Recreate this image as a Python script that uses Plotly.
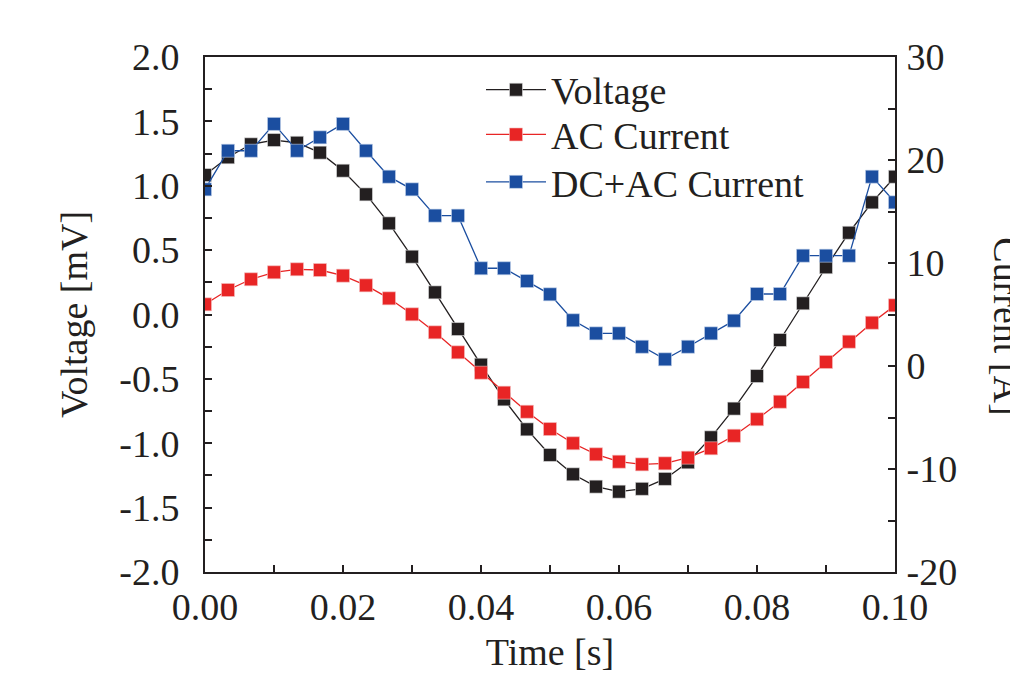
import plotly.graph_objects as go

time_s = [i / 300 for i in range(31)]

voltage_mV = [1.083, 1.221, 1.322, 1.355, 1.334, 1.257, 1.117, 0.933, 0.708, 0.449,
              0.172, -0.113, -0.390, -0.659, -0.892, -1.091, -1.241, -1.337, -1.376, -1.354,
              -1.277, -1.148, -0.954, -0.731, -0.478, -0.198, 0.087, 0.367, 0.635, 0.871, 1.070]

ac_current_A = [5.99, 7.38, 8.42, 9.10, 9.39, 9.32, 8.77, 7.83, 6.57, 5.02,
                3.27, 1.33, -0.65, -2.59, -4.44, -6.12, -7.50, -8.57, -9.29, -9.55,
                -9.45, -8.90, -7.99, -6.77, -5.17, -3.47, -1.55, 0.39, 2.36, 4.20, 5.89]

dcac_current_A = [17.15, 20.9, 20.9, 23.5, 20.9, 22.2, 23.5, 20.9, 18.38, 17.15,
                  14.6, 14.6, 9.49, 9.49, 8.25, 6.96, 4.44, 3.17, 3.17, 1.87,
                  0.65, 1.87, 3.17, 4.40, 6.99, 6.99, 10.71, 10.71, 10.71, 18.38, 15.89]

x_ticks = [0.00, 0.02, 0.04, 0.06, 0.08, 0.10]
x_ticktext = ["0.00", "0.02", "0.04", "0.06", "0.08", "0.10"]
yl_ticks = [-2.0, -1.5, -1.0, -0.5, 0.0, 0.5, 1.0, 1.5, 2.0]
yl_ticktext = ["-2.0", "-1.5", "-1.0", "-0.5", "0.0", "0.5", "1.0", "1.5", "2.0"]
yr_ticks = [-20, -10, 0, 10, 20, 30]
yr_ticktext = ["-20", "-10", "0", "10", "20", "30"]

BLACK = "#231f20"
RED = "#e82525"
BLUE = "#1b4ea0"
FONT = "Liberation Serif"
FS = 38

fig = go.Figure()
fig.add_trace(go.Scatter(x=time_s, y=voltage_mV, name="Voltage", mode="lines+markers",
                         line=dict(color=BLACK, width=1.3),
                         marker=dict(symbol="square", size=13, color=BLACK,
                                     line=dict(color="#e0e0e0", width=0.6)),
                         yaxis="y", legend="legend"))
fig.add_trace(go.Scatter(x=time_s, y=ac_current_A, name="AC Current", mode="lines+markers",
                         line=dict(color=RED, width=1.3),
                         marker=dict(symbol="square", size=13, color=RED,
                                     line=dict(color="#f4c0c0", width=0.6)),
                         yaxis="y2", legend="legend2"))
fig.add_trace(go.Scatter(x=time_s, y=dcac_current_A, name="DC+AC Current", mode="lines+markers",
                         line=dict(color=BLUE, width=1.3),
                         marker=dict(symbol="square", size=13, color=BLUE,
                                     line=dict(color="#c0d0ea", width=0.6)),
                         yaxis="y2", legend="legend3"))

axis_common = dict(showgrid=False, zeroline=False, showline=True, linecolor=BLACK, linewidth=2,
                   ticks="inside", ticklen=7, tickwidth=1.5, tickcolor=BLACK, automargin=False,
                   tickfont=dict(family=FONT, size=FS, color=BLACK))

legend_common = dict(xanchor="left", yanchor="middle", bgcolor="rgba(0,0,0,0)",
                     font=dict(family=FONT, size=FS, color=BLACK), itemwidth=60)

fig.update_layout(
    width=1010, height=673,
    margin=dict(l=205, r=115, t=57, b=101, autoexpand=False),
    paper_bgcolor="white", plot_bgcolor="white",
    font=dict(family=FONT, size=FS, color=BLACK),
    xaxis=dict(range=[0, 0.1], tickvals=x_ticks, ticktext=x_ticktext, mirror=True,
               minor=dict(dtick=0.01, tick0=0, ticks="inside", ticklen=7, tickwidth=1.5, tickcolor=BLACK),
               title=dict(text="Time [s]", font=dict(family=FONT, size=FS), standoff=22),
               ticklabelstandoff=0,
               **axis_common),
    yaxis=dict(range=[-2, 2], tickvals=yl_ticks, ticktext=yl_ticktext,
               minor=dict(dtick=0.25, tick0=0, ticks="inside", ticklen=7, tickwidth=1.5, tickcolor=BLACK),
               title=dict(text="Voltage [mV]", font=dict(family=FONT, size=FS), standoff=20),
               ticklabelstandoff=16,
               **axis_common),
    yaxis2=dict(range=[-20, 30], tickvals=yr_ticks, ticktext=yr_ticktext, overlaying="y", side="right",
                minor=dict(dtick=5, tick0=0, ticks="inside", ticklen=7, tickwidth=1.5, tickcolor=BLACK),
                ticklabelstandoff=2,
                **axis_common),
    legend=dict(x=0.40, y=0.936, **legend_common),
    legend2=dict(x=0.40, y=0.849, **legend_common),
    legend3=dict(x=0.40, y=0.757, **legend_common),
    showlegend=True,
)

fig.add_annotation(text="Current [A]", xref="paper", yref="paper", x=1.0, xshift=112, y=0.477,
                   textangle=90, showarrow=False, font=dict(family=FONT, size=FS, color=BLACK),
                   xanchor="center", yanchor="middle")

fig.write_html("out.html")
